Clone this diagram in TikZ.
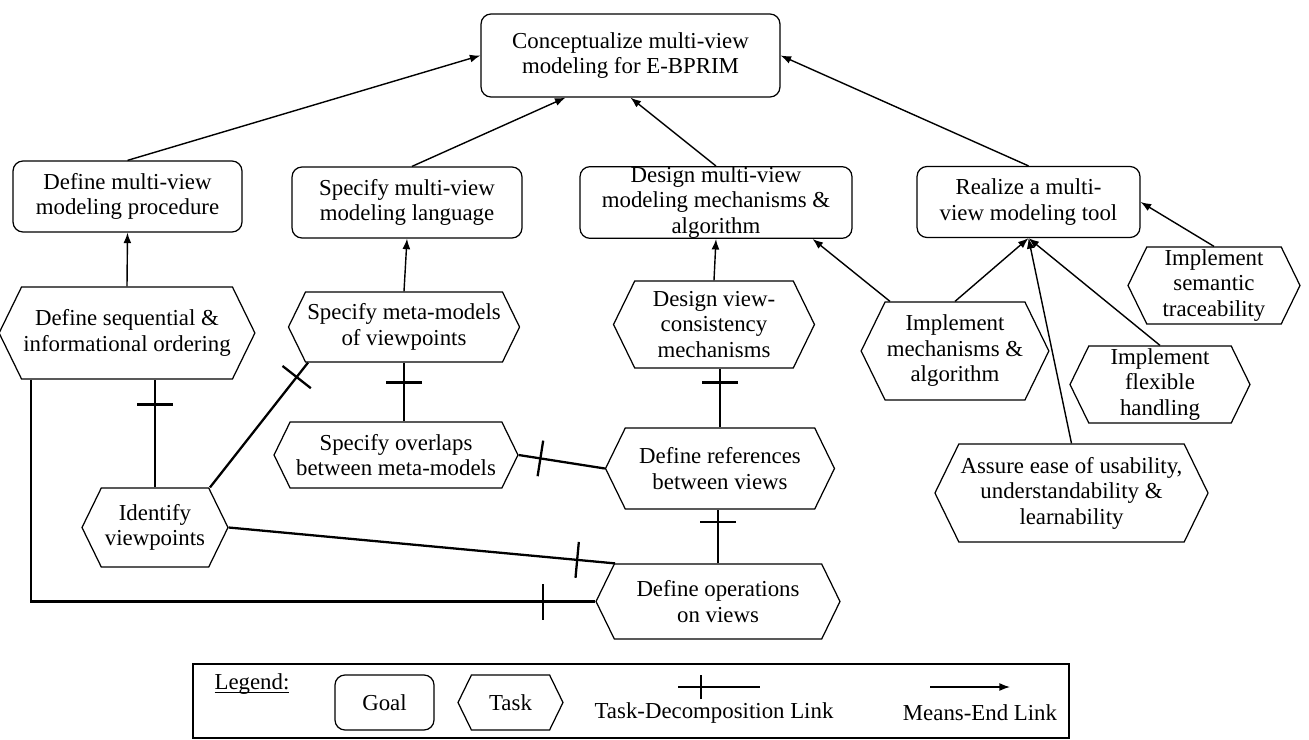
\documentclass[tikz,border=0pt]{standalone}
\usepackage{fontspec}
\setmainfont{Liberation Serif}
\usetikzlibrary{shapes.symbols,arrows.meta,decorations.markings,positioning}

\newcommand{\legunder}[1]{\setbox0\hbox{#1}\rlap{\rule[-1.8pt]{\wd0}{0.5pt}}\box0}
\tikzset{tick len/.store in=\ticklen, tick len=0.36cm}

\begin{document}
\begin{tikzpicture}[x=0.02cm, y=-0.02cm, font=\fontsize{13}{14.5}\selectfont,
	goal/.style={draw, rounded corners=0.2cm, align=center, line width=0.7pt, minimum height=1.42cm, inner sep=1pt},
	task/.style={draw, signal, signal to=east and west, signal pointer angle=128, align=center, line width=0.7pt, inner sep=1pt},
	means/.style={-{Latex[length=6pt,width=4.5pt]}, line width=0.8pt},
	decomp/.style={line width=1.3pt, postaction={decorate, decoration={markings, mark=at position #1 with {\draw[line width=1.3pt] (0,-\ticklen) -- (0,\ticklen);}}}}]
		\useasboundingbox (0,0) rectangle (1309,740);

		% goals
		\node[goal, minimum width=5.98cm, minimum height=1.66cm] (G0) at (630.5,55.5) {Conceptualize multi-view\\modeling for E-BPRIM};
		\node[goal, minimum width=4.58cm] (G1) at (127.5,196.5) {Define multi-view\\modeling procedure};
		\node[goal, minimum width=4.6cm] (G2) at (407,202.5) {Specify multi-view\\modeling language};
		\node[goal, minimum width=5.44cm, inner ysep=0pt] (G3) at (716,202.5) {Design multi-view\\modeling mechanisms \&\\algorithm};
		\node[goal, minimum width=4.46cm] (G4) at (1028.5,202) {Realize a multi-\\view modeling tool};

		% tasks
		\node[task, minimum width=4.8cm, minimum height=1.84cm] (T1) at (127,333) {Define sequential \&\\informational ordering};
		\node[task, minimum width=4.44cm, minimum height=1.4cm] (T2) at (404,327) {Specify meta-models\\of viewpoints};
		\node[task, minimum width=4.02cm, minimum height=1.74cm] (T3) at (714,324.5) {Design view-\\consistency\\mechanisms};
		\node[task, minimum width=4.88cm, minimum height=1.32cm] (T4) at (396,455) {Specify overlaps\\between meta-models};
		\node[task, minimum width=4.58cm, minimum height=1.62cm] (T5) at (720,468.5) {Define references\\between views};
		\node[task, minimum width=2.92cm, minimum height=1.58cm] (T6) at (155,527.5) {Identify\\viewpoints};
		\node[task, minimum width=4.88cm, minimum height=1.5cm] (T7) at (718,601.5) {Define operations\\on views};
		\node[task, minimum width=3.48cm, minimum height=1.96cm] (T8) at (955,351) {Implement\\mechanisms \&\\algorithm};
		\node[task, minimum width=3.44cm, minimum height=1.54cm, inner ysep=0pt] (T9) at (1214,285.5) {Implement\\semantic\\traceability};
		\node[task, minimum width=3.6cm, minimum height=1.54cm, inner ysep=0pt] (T10) at (1160,384.5) {Implement\\flexible\\handling};
		\node[task, minimum width=5.34cm, minimum height=1.96cm] (T11) at (1071.5,493) {Assure ease of usability,\\understandability \&\\learnability};

		% means-end links
		\path (G1.north) edge[means] (G0.west);
		\path ([xshift=0.1cm]G2.north) edge[means] ([xshift=-1.3cm]G0.south);
		\path (G3.north) edge[means] (G0.south);
		\path (G4.north) edge[means] (G0.east);
		\path (T1.north) edge[means] (G1.south);
		\path (T2.north) edge[means] (G2.south);
		\path (T3.north) edge[means] (G3.south);
		\path ([xshift=-1.3cm]T8.north) edge[means] ([xshift=-0.8cm]G3.south east);
		\path (T8.north) edge[means] (G4.south);
		\path (T11.north) edge[means] (G4.south);
		\path (T10.north) edge[means] (G4.south);
		\path (T9.north) edge[means] (G4.east);

		% task-decomposition links
		\draw[decomp=-0.5cm] (T6.north) -- (T6.north |- T1.south);
		\draw[decomp=-0.36cm] ([xshift=1.1cm]T6.north) -- ([xshift=-1.92cm]T2.south);
		\draw[decomp=-0.4cm] (T2.south |- T4.north) -- (T2.south);
		\draw[decomp=-0.44cm] (T5.west) -- (T4.east);
		\draw[decomp=-0.28cm] (T5.north) -- (T5.north |- T3.south);
		\draw[decomp=-0.25cm] (T7.north) -- (T7.north |- T5.south);
		\draw[decomp=-0.76cm] (T6.east) -- ([xshift=-2.06cm]T7.north);
		\draw[decomp=-1.04cm] ([xshift=-1.92cm]T1.south) |- (T7.west);

		% legend
		\node[draw, line width=0.7pt, minimum width=17.52cm, minimum height=1.48cm] (legend) at (631,701) {};
		\node (legtitle) at (252,684) {\legunder{Legend:}};
		\node[goal, minimum width=1.98cm, minimum height=1.1cm] (leggoal) at (384.5,702.5) {Goal};
		\node[task, minimum width=2.1cm, minimum height=1.1cm] (legtask) at (510.5,702.5) {Task};
		\coordinate (tdA) at (678,687);
		\coordinate (tdB) at (760,687);
		\draw[decomp=0.46cm, tick len=0.24cm] (tdA) -- (tdB);
		\node (tdlabel) at (714,713) {Task-Decomposition Link};
		\coordinate (meA) at (930,687);
		\coordinate (meB) at (1010,687);
		\path (meA) edge[means] (meB);
		\node (melabel) at (980,713) {Means-End Link};
	\end{tikzpicture}
\end{document}
